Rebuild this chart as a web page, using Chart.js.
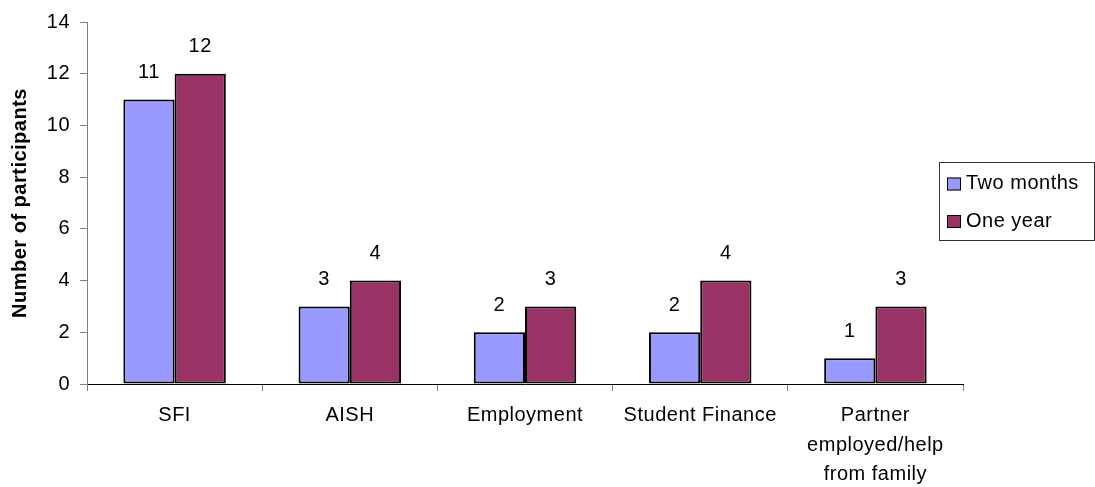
<!DOCTYPE html>
<html>
<head>
<meta charset="utf-8">
<script src="https://cdn.jsdelivr.net/npm/chart.js@4/dist/chart.umd.min.js"></script>
<style>
  body { margin: 0; background: #fff; }
  #wrap { width: 1095px; height: 487px; }
</style>
</head>
<body>
<div id="wrap"><canvas id="chart" width="1095" height="487"></canvas></div>
<script>
const categories = ['SFI', 'AISH', 'Employment', 'Student Finance', ['Partner', 'employed/help', 'from family']];
const twoMonths = [11, 3, 2, 2, 1];
const oneYear = [12, 4, 3, 4, 3];
const yTicks = { min: 0, max: 14, step: 2 };

const FONT = "'Liberation Sans', Arial, sans-serif";
Chart.defaults.font.family = FONT;
Chart.defaults.font.size = 20;
Chart.defaults.color = '#000';

// slightly loose text, set before layout so label sizes include it
const looseText = {
	id: 'looseText',
	beforeUpdate(chart) { chart.ctx.letterSpacing = '0.5px'; },
	beforeDraw(chart) { chart.ctx.letterSpacing = '0.5px'; }
};

// value printed above each bar
const valueLabels = {
	id: 'valueLabels',
	afterDatasetsDraw(chart) {
		const ctx = chart.ctx;
		ctx.save();
		ctx.font = '20px ' + FONT;
		ctx.fillStyle = '#000';
		ctx.textAlign = 'center';
		ctx.textBaseline = 'middle';
		chart.data.datasets.forEach((ds, i) => {
			chart.getDatasetMeta(i).data.forEach((bar, j) => {
				ctx.fillText(ds.data[j], bar.x, bar.y - 27);
			});
		});
		ctx.restore();
	}
};

// boxed legend on the right
const boxLegend = {
	id: 'boxLegend',
	afterDraw(chart) {
		const ctx = chart.ctx;
		const x = 939, y = 162, w = 155, h = 78;
		ctx.save();
		ctx.strokeStyle = '#333';
		ctx.lineWidth = 1;
		ctx.strokeRect(x + 0.5, y + 0.5, w, h);
		ctx.font = '20px ' + FONT;
		ctx.textBaseline = 'middle';
		chart.data.datasets.forEach((ds, i) => {
			const cy = y + 21.5 + i * 37.5;
			ctx.fillStyle = ds.backgroundColor;
			ctx.fillRect(x + 8, cy - 6, 14, 13);
			ctx.strokeStyle = '#000';
			ctx.strokeRect(x + 8.5, cy - 5.5, 13, 12);
			ctx.fillStyle = '#000';
			ctx.fillText(ds.label, x + 27, cy);
		});
		ctx.restore();
	}
};

new Chart(document.getElementById('chart'), {
	type: 'bar',
	data: {
		labels: categories,
		datasets: [
			{
				label: 'Two months',
				data: twoMonths,
				backgroundColor: '#9999FF',
				borderColor: '#000',
				borderWidth: 2,
				borderSkipped: false
			},
			{
				label: 'One year',
				data: oneYear,
				backgroundColor: '#993366',
				borderColor: '#000',
				borderWidth: 2,
				borderSkipped: false
			}
		]
	},
	options: {
		responsive: false,
		animation: false,
		layout: { padding: { top: 19.5, right: 132, bottom: 0, left: 0 } },
		datasets: { bar: { barPercentage: 1, categoryPercentage: 0.585 } },
		plugins: {
			legend: { display: false },
			tooltip: { enabled: false }
		},
		scales: {
			x: {
				afterFit(scale) { scale.height = 103; },
				border: { color: '#000', width: 1 },
				grid: { offset: true, drawOnChartArea: false, tickLength: 7, color: '#808080' },
				ticks: {
					maxRotation: 0,
					autoSkip: false,
					padding: 10,
					font: { size: 20, lineHeight: 1.475 }
				}
			},
			y: {
				min: yTicks.min,
				max: yTicks.max,
				afterFit(scale) { scale.width = 87; },
				border: { color: '#808080', width: 1 },
				grid: { drawOnChartArea: false, tickLength: 7, color: '#808080' },
				ticks: { stepSize: yTicks.step, padding: 10 },
				title: {
					display: true,
					text: 'Number of participants',
					font: { size: 20, weight: 'bold' },
					padding: { top: 8, bottom: 0 }
				}
			}
		}
	},
	plugins: [looseText, valueLabels, boxLegend]
});
</script>
</body>
</html>
